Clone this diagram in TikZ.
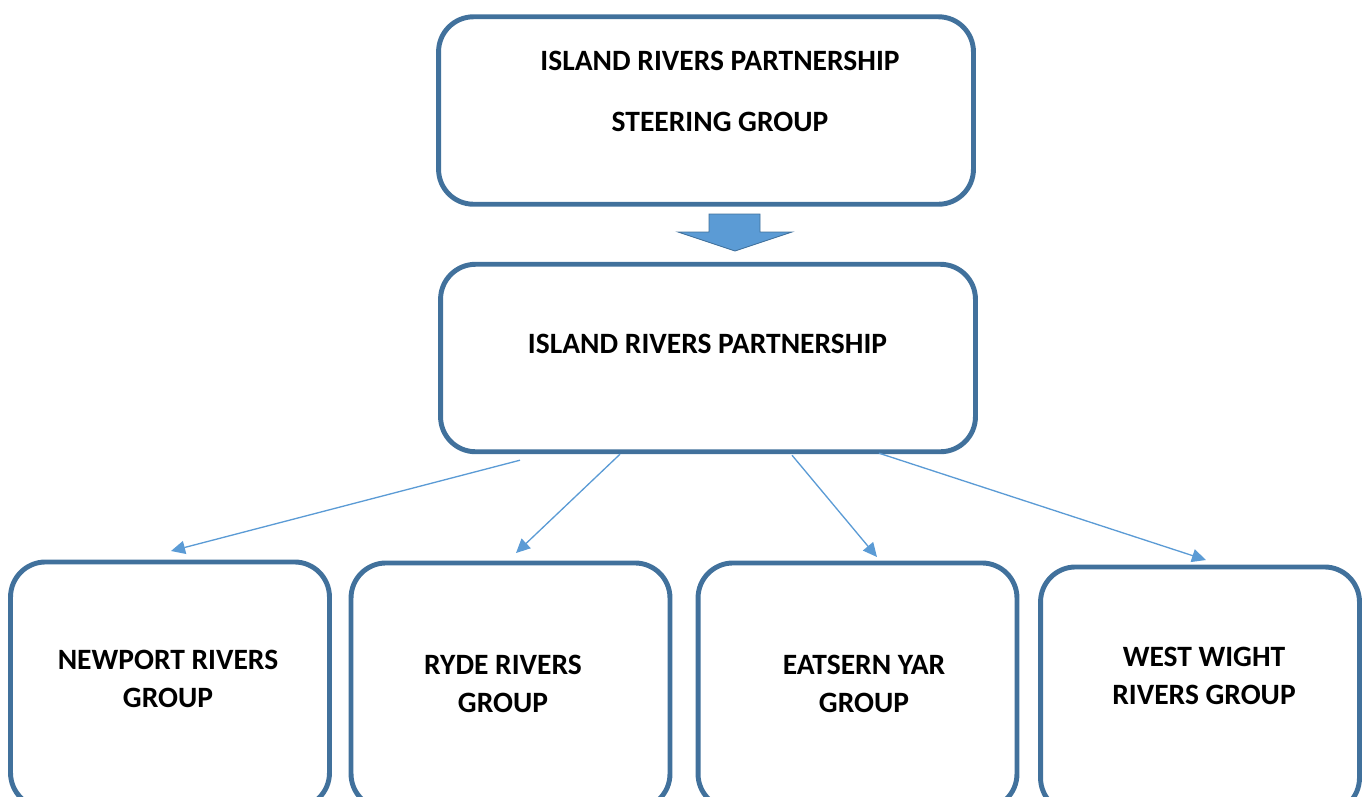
\documentclass[tikz,border=0pt]{standalone}
\usepackage{fontspec}
\setmainfont{Carlito}
\usepackage{xcolor}
\usetikzlibrary{arrows.meta,positioning,calc}
\definecolor{boxline}{HTML}{41719C}
\definecolor{linkblue}{HTML}{5B9BD5}

\begin{document}
\begin{tikzpicture}[
    x=0.02cm, y=-0.02cm,
    box/.style={rectangle, draw=boxline, line width=2.8pt, rounded corners=0.7cm, fill=white},
    bigbox/.style={box, minimum width=10.7cm, minimum height=3.75cm},
    groupbox/.style={box, minimum width=6.38cm, minimum height=4.92cm, anchor=north},
    txt/.style={font=\fontsize{16.8}{21.5}\selectfont\bfseries, align=center, inner sep=0pt},
    link/.style={-{Triangle[length=8pt, width=7.5pt]}, draw=linkblue, line width=0.75pt}
]

\useasboundingbox (0,0) rectangle (1364,796);
\clip (0,0) rectangle (1364,796);

\node[bigbox] (steer) at (706,110.5) {};
\node[bigbox] (irp) at (708,358) {};
\node[txt] (steer-txt) at (720,91.5) {ISLAND RIVERS PARTNERSHIP\\[13pt] STEERING GROUP};
\node[txt] (irp-txt) at (707.5,344) {ISLAND RIVERS PARTNERSHIP};

\node[groupbox] (newport) at (170,559.5) {};
\node[groupbox] (ryde) at (510.5,560.5) {};
\node[groupbox] (eastyar) at (857.5,560.5) {};
\node[groupbox] (westwight) at (1200,564.5) {};

\node[txt] (newport-txt) at (168,679) {NEWPORT RIVERS\\GROUP};
\node[txt] (ryde-txt) at (503,684) {RYDE RIVERS\\GROUP};
\node[txt] (eastyar-txt) at (864,684) {EATSERN YAR\\GROUP};
\node[txt] (westwight-txt) at (1204,676) {WEST WIGHT\\RIVERS GROUP};

% block arrow between the two top boxes
\filldraw[fill=linkblue, draw=boxline, line width=0.5pt]
    (709,214) -- (760,214) -- (760,232) -- (792,232) -- (735,251) -- (678,232) -- (709,232) -- cycle;

\draw[link] ($(irp.south)+(-188,6)$) -- ($(newport.north)+(1,-8.5)$);
\draw[link] ($(irp.south)+(-88,0)$) -- ($(ryde.north)+(5.5,-7.5)$);
\draw[link] ($(irp.south)+(84,1)$) -- ($(eastyar.north)+(19.5,-3.5)$);
\draw[link] ($(irp.south)+(171,-1)$) -- ($(westwight.north)+(6,-4.5)$);

\end{tikzpicture}
\end{document}
